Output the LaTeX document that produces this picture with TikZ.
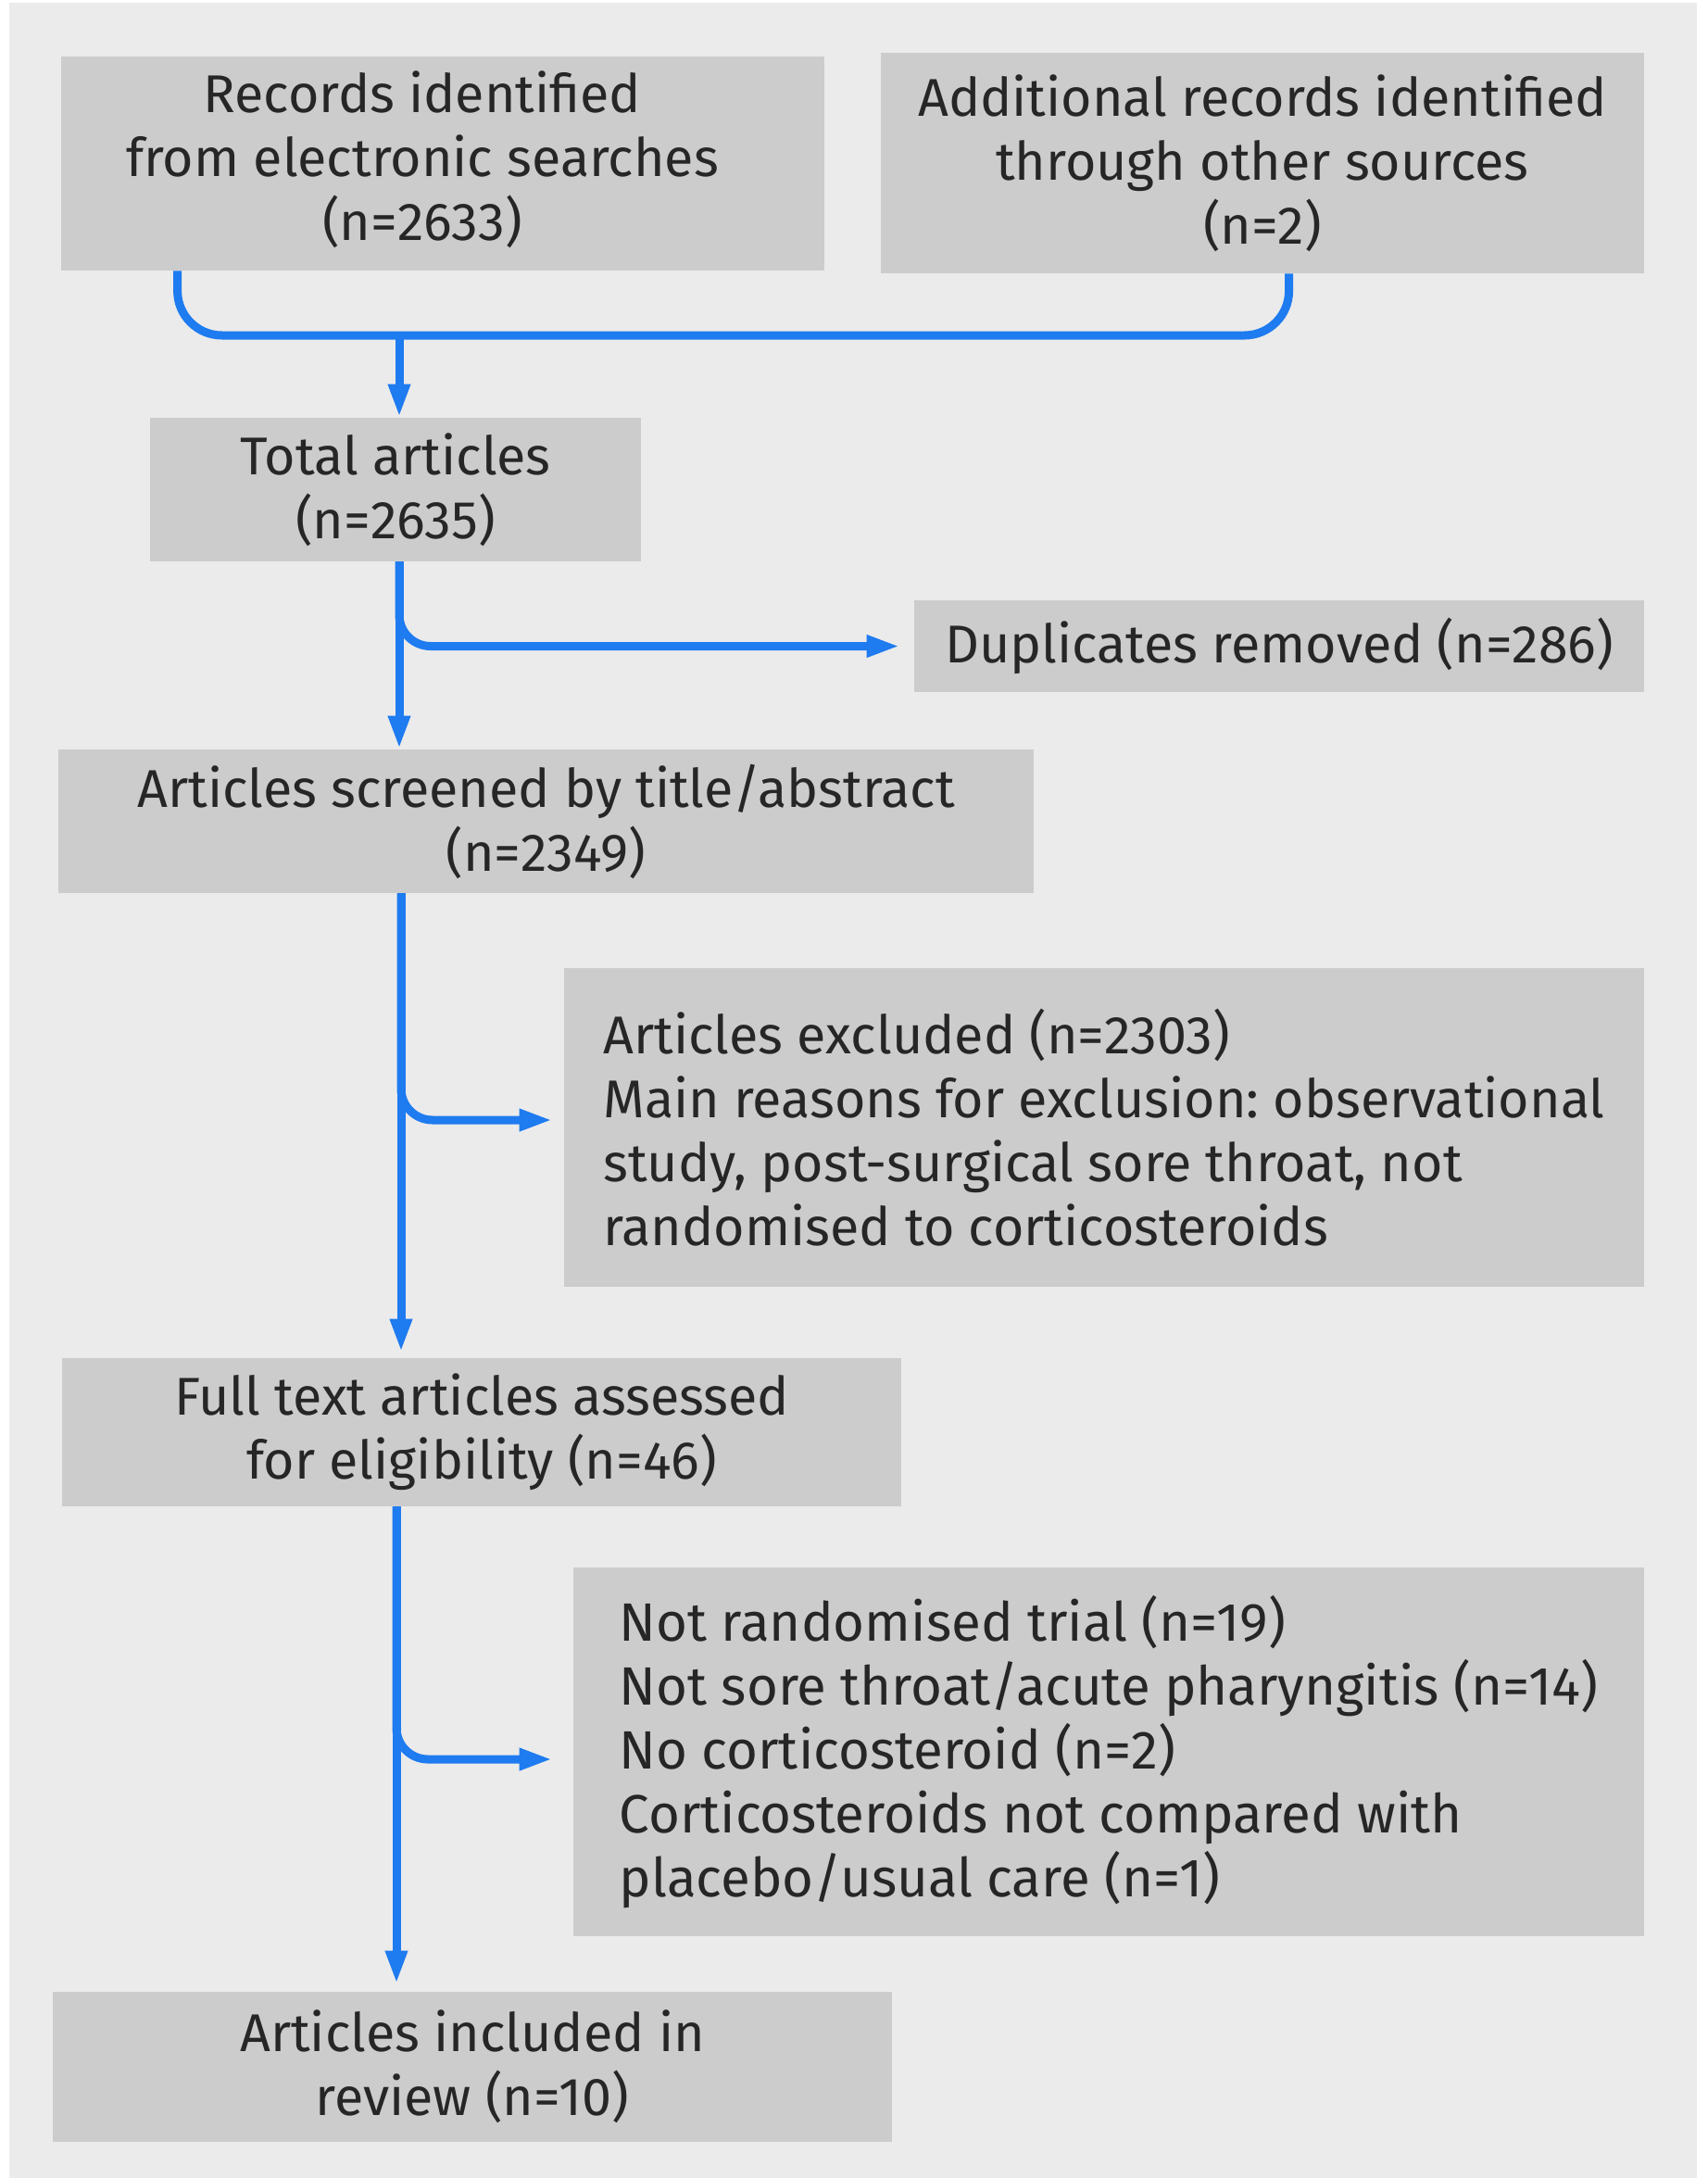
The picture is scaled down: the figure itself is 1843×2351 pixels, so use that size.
\documentclass[tikz,border=0pt]{standalone}
\usepackage{fontspec}
\setmainfont{Fira Sans}
\usepackage{tikz}
\usetikzlibrary{arrows.meta}
\definecolor{panelgray}{HTML}{EBEBEB}
\definecolor{boxgray}{HTML}{CCCCCC}
\definecolor{flowblue}{HTML}{1E7BF0}
\definecolor{inkgray}{HTML}{262626}
\frenchspacing
\tikzset{
  box/.style={fill=boxgray, draw=none, text=inkgray, inner sep=0pt, align=center,
    font=\fontsize{28.7pt}{34.5pt}\selectfont},
  leftbox/.style={box, align=left},
  flowline/.style={draw=flowblue, line width=4.5pt},
  flowarrow/.style={flowline, -{Triangle[length=18pt,width=11pt]}}
}
\newcommand{\flowbox}[6]{\node[box, minimum width=#3, minimum height=#4, #5] (#1) at (#2) {#6};}

\begin{document}
\begin{tikzpicture}[x=0.5pt,y=-0.5pt]
        % page and panel
        \useasboundingbox (0,0) rectangle (1843,2351);
        \fill[white] (0,0) rectangle (1843,2351);
        \fill[panelgray] (10,3) rectangle (1832,2351);
        % sources
        \flowbox{recsearch}{478,176.5}{412pt}{115.5pt}{}{\begin{tabular}{@{}c@{\hspace{22pt}}}Records identified\\from electronic searches\\(n=2633)\end{tabular}}
        \flowbox{recother}{1363,176}{412pt}{119pt}{}{Additional records identified\\through other sources\\(n=2)}
        % totals
        \flowbox{total}{427,528.5}{265pt}{77.5pt}{}{Total articles\\(n=2635)}
        \flowbox{dup}{1381,697.5}{394pt}{49.5pt}{}{Duplicates removed (n=286)}
        % screening
        \flowbox{screened}{589.5,886.5}{526.5pt}{77.5pt}{}{Articles screened by title/abstract\\(n=2349)}
        \flowbox{excl}{1192,1217}{583pt}{172pt}{leftbox}{Articles excluded (n=2303)\\Main reasons for exclusion: observational\\study, post-surgical sore throat, not\\randomised to corticosteroids}
        % eligibility
        \flowbox{fulltext}{520,1546}{453pt}{80pt}{}{Full text articles assessed\\for eligibility (n=46)}
        \flowbox{notrand}{1197,1891}{578pt}{199pt}{leftbox, font=\fontsize{29.1pt}{34.5pt}\selectfont}{Not randomised trial (n=19)\\Not sore throat/acute pharyngitis (n=14)\\No corticosteroid (n=2)\\Corticosteroids not compared with\\placebo/usual care (n=1)}
        % included
        \flowbox{included}{510,2231}{453pt}{81pt}{}{Articles included in\\review (n=10)}

        % spine points
        \coordinate (join) at (431,362);
        \coordinate (spineA) at (431,0);
        \coordinate (spineB) at (433,0);
        \coordinate (spineC) at (428,0);

        % merge of the two sources
        \draw[flowline, rounded corners=24pt] ([xshift=63pt]recsearch.south west) |- (join) -| ([xshift=220.5pt]recother.south west);
        \draw[flowarrow] (join) -- (join |- total.north);
        % total to screened
        \draw[flowarrow] (spineA |- total.south) -- (spineA |- screened.north);
        \draw[flowarrow, rounded corners=17pt] (spineA |- total.south) |- ([xshift=-7.5pt]dup.west);
        % screened to full text
        \draw[flowarrow, shorten >=3pt] (spineB |- screened.south) -- (spineB |- fulltext.north);
        \draw[flowarrow, rounded corners=17pt] (spineB |- screened.south) |- ([xshift=-6pt,yshift=4pt]excl.west);
        % full text to included
        \draw[flowarrow, shorten >=4pt] (spineC |- fulltext.south) -- (spineC |- included.north);
        \draw[flowarrow, rounded corners=17pt] (spineC |- fulltext.south) |- ([xshift=-11pt,yshift=-4pt]notrand.west);
\end{tikzpicture}
\end{document}
